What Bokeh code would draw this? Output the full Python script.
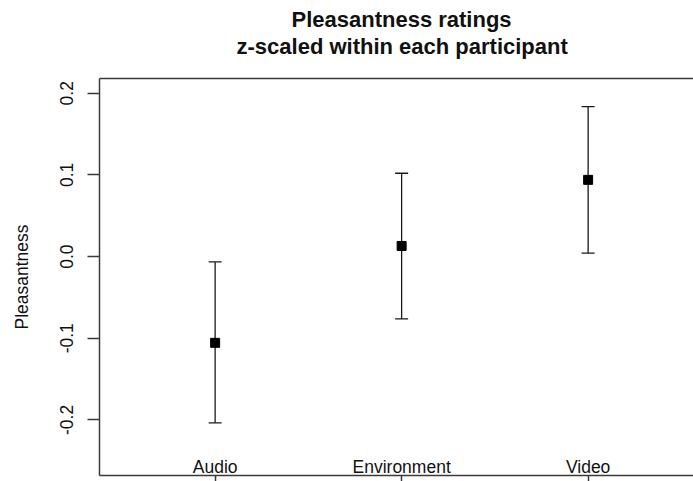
from bokeh.plotting import figure
from bokeh.models import (LinearAxis, FixedTicker, ColumnDataSource, Whisker,
                          TeeHead, Title)
from bokeh.embed import file_html
from bokeh.resources import INLINE
from bokeh.core.properties import value

# ---- data ----
categories = ["Audio", "Environment", "Video"]
positions = [1, 2, 3]
means = [-0.1056, 0.0130, 0.0939]
lower = [-0.2035, -0.0763, 0.0042]
upper = [-0.0065, 0.1020, 0.1836]
y_ticks = [-0.2, -0.1, 0.0, 0.1, 0.2]
y_tick_labels = ["-0.2", "-0.1", "0.0", "0.1", "0.2"]
title_lines = ["Pleasantness ratings", "z-scaled within each participant"]
y_label = "Pleasantness"

# plotting limits (R-style ylim c(-0.25, 0.2), xlim c(0.5, 3.5) with 4% padding)
YLIM = (-0.268, 0.218)
X_START = 0.38
X_END = 3.565

W, H = 693, 481
FONT = "Liberation Sans"
FS = "17.5px"
AXC = "#3a3a3a"
TXT = "#111111"

p = figure(width=W, height=H, x_range=(X_START, X_END), y_range=YLIM,
           x_axis_location=None, y_axis_location=None,
           toolbar_location=None, output_backend="svg",
           min_border_left=99, min_border_right=0,
           min_border_top=78, min_border_bottom=6)
p.grid.visible = False
p.outline_line_color = None
p.background_fill_color = "white"
p.border_fill_color = "white"

# left axis (box's left side)
yax = LinearAxis(ticker=FixedTicker(ticks=y_ticks),
                 major_label_overrides={t: l for t, l in zip(y_ticks, y_tick_labels)},
                 axis_label=y_label)
yax.major_tick_out = 12
yax.major_tick_in = 0
yax.minor_tick_out = 0
yax.minor_tick_in = 0
yax.major_label_orientation = "parallel"
yax.major_label_standoff = 14
yax.major_label_text_font = FONT
yax.major_label_text_font_size = FS
yax.major_label_text_color = TXT
yax.axis_label_text_font = FONT
yax.axis_label_text_font_size = FS
yax.axis_label_text_font_style = "normal"
yax.axis_label_text_color = TXT
yax.axis_label_standoff = 26
yax.axis_line_color = AXC
yax.axis_line_width = 1.5
yax.major_tick_line_color = AXC
yax.major_tick_line_width = 1.5
p.add_layout(yax, "left")

# bottom axis (box's bottom side, ticks only)
xax = LinearAxis(ticker=FixedTicker(ticks=positions),
                 major_label_overrides={x: "" for x in positions})
xax.major_tick_out = 6
xax.major_tick_in = 0
xax.minor_tick_out = 0
xax.minor_tick_in = 0
xax.major_label_standoff = 0
xax.major_label_text_font_size = "0px"
xax.axis_line_color = AXC
xax.axis_line_width = 1.5
xax.major_tick_line_color = AXC
xax.major_tick_line_width = 1.5
p.add_layout(xax, "below")

# box's top side (axis line only; invisible ticks act as spacer for the title)
tax = LinearAxis(ticker=FixedTicker(ticks=positions),
                 major_label_overrides={x: "" for x in positions})
tax.major_tick_out = 18
tax.major_tick_in = 0
tax.minor_tick_out = 0
tax.minor_tick_in = 0
tax.major_label_standoff = 0
tax.major_label_text_font_size = "0px"
tax.major_tick_line_alpha = 0
tax.axis_line_color = AXC
tax.axis_line_width = 1.5
p.add_layout(tax, "above")

# error bars
src = ColumnDataSource(dict(x=positions, mean=means, lower=lower, upper=upper,
                            label=categories))
wh = Whisker(base="x", lower="lower", upper="upper", source=src,
             line_color="#1a1a1a", line_width=1.3,
             upper_head=TeeHead(size=13, line_color="#1a1a1a", line_width=1.3),
             lower_head=TeeHead(size=13, line_color="#1a1a1a", line_width=1.3))
p.add_layout(wh)

p.scatter(x="x", y="mean", source=src, marker="square", size=9,
          fill_color="black", line_color="black")

# category labels inside the box
p.text(x="x", y=YLIM[0], text="label", source=src, y_offset=-8.3,
       text_align="center", text_baseline="alphabetic",
       text_font=value(FONT), text_font_size=FS, text_color=TXT)

# title: two lines, centred on the box centre (left-aligned with offsets)
title_offsets = [192, 137]
title_valign = ["bottom", "top"]
title_standoff = [3, 0]
for line, off, va, so in reversed(list(zip(title_lines, title_offsets,
                                           title_valign, title_standoff))):
    p.add_layout(Title(text=line, align="left", offset=off, vertical_align=va,
                       standoff=so, text_font=FONT, text_font_size="22px",
                       text_font_style="bold", text_color=TXT), "above")

open("out.html", "w").write(file_html(p, INLINE))
